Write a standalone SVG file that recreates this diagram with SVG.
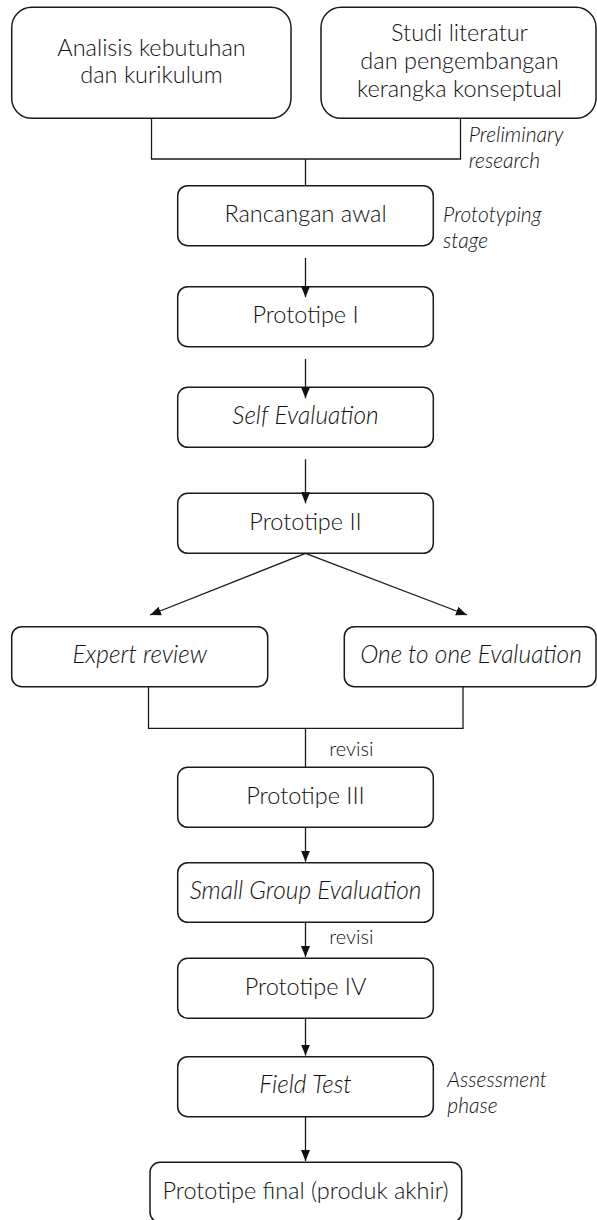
<svg xmlns="http://www.w3.org/2000/svg" width="597" height="1220" viewBox="0 0 597 1220">
<defs>
<marker id="arr" markerUnits="userSpaceOnUse" markerWidth="12" markerHeight="10" refX="11" refY="4.5" orient="auto">
<path d="M0,0 L11,4.5 L0,9 z" fill="#111"/>
</marker>
<style>
.box{fill:#fff;stroke:#1a1a1a;stroke-width:1.5}
.t{font-family:Lato,"Liberation Sans",sans-serif;font-weight:300;font-size:23.5px;fill:#111;text-anchor:middle}
.i{font-style:italic;font-size:24.5px}
.lab{font-family:Lato,"Liberation Sans",sans-serif;font-weight:300;font-size:21px;fill:#111;font-style:italic}
.rev{font-family:Lato,"Liberation Sans",sans-serif;font-weight:300;font-size:20px;fill:#111}
.ln{fill:none;stroke:#1a1a1a;stroke-width:1.3}
</style>
</defs>
<rect width="597" height="1220" fill="#fff"/>
<g id="n-analisis">
<rect class="box" x="11.7" y="7.3" width="279.3" height="111" rx="20"/>
<text class="t" x="151.5" y="55.7">Analisis kebutuhan</text>
<text class="t" x="151.5" y="83.3">dan kurikulum</text>
</g>
<g id="n-studi">
<rect class="box" x="321" y="7.3" width="275" height="111" rx="20"/>
<text class="t" x="459.5" y="40.7">Studi literatur</text>
<text class="t" x="459.5" y="69">dan pengembangan</text>
<text class="t" x="459.5" y="97.3">kerangka konseptual</text>
</g>
<text id="lbl-preliminary" class="lab" x="468.7" y="141.7">Preliminary<tspan x="468.7" y="167.7">research</tspan></text>
<g id="n-rancangan">
<rect class="box" x="177.7" y="185.7" width="255.6" height="60" rx="10"/>
<text class="t" x="305.5" y="222.3">Rancangan awal</text>
</g>
<text id="lbl-prototyping" class="lab" x="443" y="222.3">Prototyping<tspan x="443" y="248.3">stage</tspan></text>
<g id="n-p1">
<rect class="box" x="177.7" y="286.7" width="255.6" height="60" rx="10"/>
<text class="t" x="305.5" y="323.3">Prototipe I</text>
</g>
<g id="n-self">
<rect class="box" x="177.7" y="387.3" width="255.6" height="60" rx="10"/>
<text class="t i" x="305.5" y="424">Self Evaluation</text>
</g>
<g id="n-p2">
<rect class="box" x="177.7" y="493.3" width="255.6" height="60" rx="10"/>
<text class="t" x="305.5" y="530">Prototipe II</text>
</g>
<g id="n-expert">
<rect class="box" x="11.7" y="626.7" width="256" height="60" rx="10"/>
<text class="t i" x="139.7" y="663.3">Expert review</text>
</g>
<g id="n-one">
<rect class="box" x="344.3" y="626.7" width="251.7" height="60" rx="10"/>
<text class="t i" x="471" y="663.3">One to one Evaluation</text>
</g>
<g id="n-p3">
<rect class="box" x="177.7" y="767.3" width="255.6" height="60" rx="10"/>
<text class="t" x="305.5" y="804">Prototipe III</text>
</g>
<g id="n-small">
<rect class="box" x="177.7" y="862.7" width="255.6" height="59.6" rx="10"/>
<text class="t i" x="305.5" y="899">Small Group Evaluation</text>
</g>
<g id="n-p4">
<rect class="box" x="177.7" y="958.3" width="255.6" height="60" rx="10"/>
<text class="t" x="305.5" y="994.5">Prototipe IV</text>
</g>
<g id="n-field">
<rect class="box" x="177.7" y="1056.7" width="255.6" height="60" rx="10"/>
<text class="t i" x="305.5" y="1093">Field Test</text>
</g>
<text id="lbl-assessment" class="lab" x="447.3" y="1087.3">Assessment<tspan x="447.3" y="1112.7">phase</tspan></text>
<g id="n-final">
<rect class="box" x="150" y="1162.3" width="311.7" height="60" rx="10"/>
<text class="t" x="305.5" y="1199">Prototipe final (produk akhir)</text>
</g>
<g id="connectors">
<path class="ln" d="M151.5,118.3 V159 H460.5 V118.3 M305.5,159 V185.7"/>
<path class="ln" d="M305.5,258 V297.3" marker-end="url(#arr)"/>
<path class="ln" d="M305.5,359 V398.3" marker-end="url(#arr)"/>
<path class="ln" d="M305.5,459.3 V503.3" marker-end="url(#arr)"/>
<path class="ln" d="M305.5,553.3 L150,615" marker-end="url(#arr)"/>
<path class="ln" d="M305.5,553.3 L467,615" marker-end="url(#arr)"/>
<path class="ln" d="M148.5,686.7 V728.3 H463 V686.7 M305.5,728.3 V767.3"/>
<path class="ln" d="M305.5,827.3 V861.7" marker-end="url(#arr)"/>
<path class="ln" d="M305.5,922.3 V957" marker-end="url(#arr)"/>
<path class="ln" d="M305.5,1018.3 V1055.5" marker-end="url(#arr)"/>
<path class="ln" d="M305.5,1116.7 V1161" marker-end="url(#arr)"/>
<text class="rev" x="329.3" y="755.7">revisi</text>
<text class="rev" x="329.3" y="944">revisi</text>
</g>
</svg>
